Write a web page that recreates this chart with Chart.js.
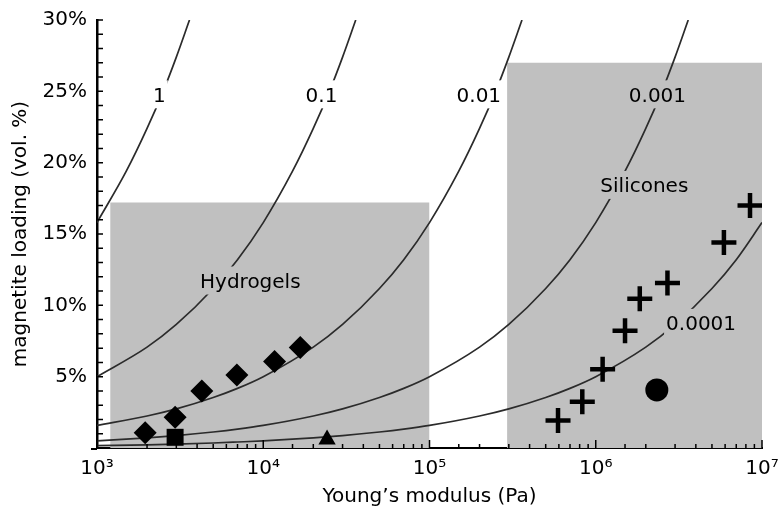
<!DOCTYPE html>
<html>
<head>
<meta charset="utf-8">
<script src="https://cdn.jsdelivr.net/npm/chart.js@4.4.0/dist/chart.umd.min.js"></script>
<style>
  html, body { margin: 0; padding: 0; background: #fff; }
</style>
</head>
<body>
<canvas id="chartMagnetite" width="783" height="508"></canvas>
<script>
/* magnetite loading vs Young's modulus */

// hydrogel samples (diamonds)
const hydrogelModulus = [1.95e3, 2.95e3, 4.27e3, 6.94e3, 1.17e4, 1.67e4];
const hydrogelLoading = [1.07, 2.15, 4.0, 5.12, 6.06, 7.04];
// single samples
const squareModulus = [2.95e3];
const squareLoading = [0.75];
const triangleModulus = [2.42e4];
const triangleLoading = [0.6];
const circleModulus = [2.33e6];
const circleLoading = [4.07];
// silicone samples (plus signs)
const siliconeModulus = [5.93e5, 8.3e5, 1.1e6, 1.5e6, 1.84e6, 2.7e6, 5.9e6, 8.47e6];
const siliconeLoading = [1.92, 3.25, 5.52, 8.21, 10.46, 11.56, 14.4, 17.0];

// material ranges (modulus from/to, loading top)
const regionNames = ["Hydrogels", "Silicones"];
const regionFrom = [1.2e3, 2.93e5];
const regionTo = [1e5, 1e7];
const regionTop = [17.2, 27.0];
const regionLabelE = [8.36e3, 1.96e6];
const regionLabelY = [11.6, 18.3];

// iso-lines
const curveNames = ["1", "0.1", "0.01", "0.001", "0.0001"];
const curveModulus = [
  [1e3, 1.5e3, 2e3, 2.5e3, 3e3, 3.6e3],
  [1e3, 2e3, 3e3, 5e3, 7e3, 1e4, 1.5e4, 2e4, 2.5e4, 3e4, 3.6e4],
  [1e3, 2e3, 3e3, 5e3, 7e3, 1e4, 2e4, 3e4, 5e4, 7e4, 1e5, 1.5e5, 2e5, 2.5e5, 3e5, 3.6e5],
  [1e3, 2e3, 3e3, 5e3, 7e3, 1e4, 2e4, 3e4, 5e4, 7e4, 1e5, 2e5, 3e5, 5e5, 7e5, 1e6, 1.5e6, 2e6, 2.5e6, 3e6, 3.6e6],
  [1e3, 2e3, 3e3, 5e3, 7e3, 1e4, 2e4, 3e4, 5e4, 7e4, 1e5, 2e5, 3e5, 5e5, 7e5, 1e6, 2e6, 3e6, 5e6, 7e6, 1e7],
];
const curveLoading = [
  [15.8, 19.4, 22.4, 25.0, 27.4, 30.0],
  [5.0, 7.07, 8.66, 11.18, 13.2, 15.8, 19.4, 22.4, 25.0, 27.4, 30.0],
  [1.58, 2.24, 2.74, 3.54, 4.18, 5.0, 7.07, 8.66, 11.18, 13.2, 15.8, 19.4, 22.4, 25.0, 27.4, 30.0],
  [0.5, 0.71, 0.87, 1.12, 1.32, 1.58, 2.24, 2.74, 3.54, 4.18, 5.0, 7.07, 8.66, 11.18, 13.2, 15.8, 19.4, 22.4, 25.0, 27.4, 30.0],
  [0.16, 0.22, 0.27, 0.35, 0.42, 0.5, 0.71, 0.87, 1.12, 1.32, 1.58, 2.24, 2.74, 3.54, 4.18, 5.0, 7.07, 8.66, 11.18, 13.2, 15.8],
];
const curveLabelE = [2.37e3, 2.24e4, 1.98e5, 2.35e6, 4.3e6];
const curveLabelY = [24.65, 24.65, 24.65, 24.65, 8.63];

// axis labels
const xTickLabels = { 3: "10³", 4: "10⁴", 5: "10⁵", 6: "10⁶", 7: "10⁷" };
const yTickStep = 5;

const BOX_GRAY = "#c0c0c0";
const FONT = "'DejaVu Sans', 'Liberation Sans', Arial, sans-serif";
const FONT_SIZE = 20;

function pts(xs, ys) {
  return xs.map((x, i) => ({ x, y: ys[i] }));
}

function inRegion(e, v) {
  return regionFrom.some((f, i) => e >= f && e <= regionTo[i] && v <= regionTop[i]);
}

// ticks point inward, labels on lines get a cut-out
const decorations = {
  id: "decorations",
  afterDatasetsDraw(chart) {
    const { ctx, chartArea } = chart;
    const x = chart.scales.x;
    const y = chart.scales.y;
    ctx.save();
    ctx.strokeStyle = "#000";
    ctx.lineWidth = 1.5;
    ctx.beginPath();
    x.ticks.forEach((t) => {
      const px = x.getPixelForValue(t.value);
      const len = t.major ? 8 : 4;
      ctx.moveTo(px, chartArea.bottom);
      ctx.lineTo(px, chartArea.bottom - len);
    });
    y.ticks.forEach((t) => {
      const py = y.getPixelForValue(t.value);
      ctx.moveTo(chartArea.left, py);
      ctx.lineTo(chartArea.left + 6, py);
    });
    ctx.stroke();
    // x axis line runs a little past the y axis
    ctx.lineWidth = 2;
    ctx.beginPath();
    ctx.moveTo(chartArea.left - 6, chartArea.bottom + 1);
    ctx.lineTo(chartArea.left, chartArea.bottom + 1);
    ctx.stroke();

    ctx.font = `${FONT_SIZE}px ${FONT}`;
    ctx.textAlign = "center";
    ctx.textBaseline = "middle";
    const labels = [
      ...curveNames.map((text, i) => ({ text, e: curveLabelE[i], v: curveLabelY[i] })),
      ...regionNames.map((text, i) => ({ text, e: regionLabelE[i], v: regionLabelY[i] })),
    ];
    labels.forEach((l) => {
      const px = x.getPixelForValue(l.e);
      const py = y.getPixelForValue(l.v);
      const w = ctx.measureText(l.text).width;
      ctx.fillStyle = inRegion(l.e, l.v) ? BOX_GRAY : "#fff";
      ctx.fillRect(px - w / 2 - 2, py - 16, w + 4, 28);
      ctx.fillStyle = "#000";
      ctx.fillText(l.text, px, py);
    });
    ctx.restore();
  },
};

const regionSets = regionNames.map((name, i) => ({
  type: "line",
  label: name,
  data: [
    { x: regionFrom[i], y: 0 },
    { x: regionFrom[i], y: regionTop[i] },
    { x: regionTo[i], y: regionTop[i] },
    { x: regionTo[i], y: 0 },
  ],
  fill: "origin",
  backgroundColor: BOX_GRAY,
  borderWidth: 0,
  pointRadius: 0,
  tension: 0,
  order: 10,
}));

const curveSets = curveNames.map((name, i) => ({
  type: "line",
  label: name,
  data: pts(curveModulus[i], curveLoading[i]),
  borderColor: "#2b2b2b",
  borderWidth: 1.7,
  pointRadius: 0,
  fill: false,
  cubicInterpolationMode: "monotone",
  order: 5,
}));

const marker = (label, xs, ys, style, radius, extra = {}) => ({
  label,
  data: pts(xs, ys),
  pointStyle: style,
  pointRadius: radius,
  pointBackgroundColor: "#000",
  pointBorderColor: "#000",
  pointBorderWidth: 0,
  showLine: false,
  order: 1,
  ...extra,
});

const markerSets = [
  marker("hydrogels", hydrogelModulus, hydrogelLoading, "rectRot", 11.5),
  marker("square", squareModulus, squareLoading, "rect", 12),
  marker("triangle", triangleModulus, triangleLoading, "triangle", 10),
  marker("circle", circleModulus, circleLoading, "circle", 11.5),
  marker("silicones", siliconeModulus, siliconeLoading, "cross", 12.5, { pointBorderWidth: 4.5 }),
];

Chart.defaults.font.family = FONT;
Chart.defaults.font.size = FONT_SIZE;
Chart.defaults.color = "#000";

new Chart(document.getElementById("chartMagnetite"), {
  type: "scatter",
  data: { datasets: [...regionSets, ...curveSets, ...markerSets] },
  options: {
    responsive: false,
    devicePixelRatio: 1,
    animation: false,
    layout: { padding: { top: 20, right: 21, left: 0, bottom: 0 } },
    plugins: { legend: { display: false }, tooltip: { enabled: false } },
    scales: {
      x: {
        type: "logarithmic",
        min: 1e3,
        max: 1e7,
        grid: { display: true, drawOnChartArea: false, drawTicks: false },
        border: { display: true, color: "#000", width: 2 },
        ticks: {
          autoSkip: false,
          maxRotation: 0,
          padding: 9,
          callback: (v) => {
            const p = Math.log10(v);
            return Math.abs(p - Math.round(p)) < 1e-9 ? xTickLabels[Math.round(p)] || "" : "";
          },
        },
        title: {
          display: true,
          text: "Young’s modulus (Pa)",
          font: { lineHeight: 1 },
          padding: { top: 0, bottom: 1 },
        },
        afterFit: (s) => {
          s.height = 60;
          s.paddingLeft = 0;
          s.paddingRight = 0;
        },
      },
      y: {
        type: "linear",
        min: 0,
        max: 30,
        grid: { display: true, drawOnChartArea: false, drawTicks: false },
        border: { display: true, color: "#000", width: 2.5 },
        ticks: {
          stepSize: 1,
          autoSkip: false,
          maxTicksLimit: 40,
          padding: 10,
          callback: (v) => (v > 0 && v % yTickStep === 0 ? v + "%" : ""),
        },
        title: {
          display: true,
          text: "magnetite loading (vol. %)",
          padding: { top: 9, bottom: 0 },
        },
        afterFit: (s) => {
          s.width = 97;
          s.paddingTop = 0;
          s.paddingBottom = 0;
        },
      },
    },
  },
  plugins: [decorations],
});
</script>
</body>
</html>
